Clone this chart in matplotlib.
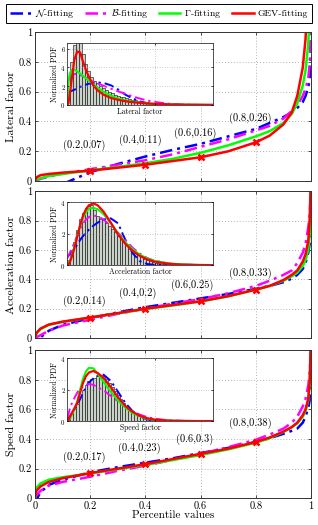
import matplotlib
matplotlib.use("Agg")
import matplotlib.pyplot as plt
from matplotlib.lines import Line2D

plt.rcParams["font.family"] = "serif"
plt.rcParams["font.serif"] = ["cmr10", "DejaVu Serif"]
plt.rcParams["mathtext.fontset"] = "cm"
plt.rcParams["axes.formatter.use_mathtext"] = True

# percentile grid shared by the quantile curves
perc = [0, 0.005, 0.02, 0.05, 0.1, 0.2, 0.3, 0.4, 0.5, 0.6, 0.7, 0.8,
        0.85, 0.9, 0.93, 0.95, 0.97, 0.98, 0.99, 0.995, 1.0]

lat_norm = [-0.45, -0.22, -0.14, -0.07, -0.02, 0.06, 0.115, 0.165, 0.21, 0.25, 0.30, 0.35,
            0.39, 0.43, 0.46, 0.49, 0.53, 0.57, 0.63, 0.68, 1.0]
lat_beta = [0.0, 0.005, 0.015, 0.03, 0.05, 0.08, 0.11, 0.14, 0.18, 0.23, 0.28, 0.34,
            0.37, 0.42, 0.47, 0.51, 0.57, 0.62, 0.69, 0.78, 1.0]
lat_gamma = [0.0, 0.01, 0.02, 0.033, 0.048, 0.072, 0.095, 0.12, 0.15, 0.19, 0.24, 0.30,
             0.335, 0.39, 0.45, 0.52, 0.64, 0.74, 0.92, 1.1, 1.5]
lat_gev = [0.0, 0.025, 0.04, 0.048, 0.057, 0.07, 0.09, 0.11, 0.135, 0.16, 0.2, 0.26,
           0.305, 0.38, 0.46, 0.57, 0.76, 0.95, 1.3, 1.6, 2.0]

acc_norm = [-0.1, -0.05, 0.005, 0.05, 0.09, 0.135, 0.175, 0.21, 0.24, 0.27, 0.30, 0.335,
            0.355, 0.38, 0.405, 0.43, 0.47, 0.51, 0.58, 0.64, 1.0]
acc_beta = [0.0, 0.005, 0.02, 0.05, 0.085, 0.125, 0.165, 0.2, 0.235, 0.265, 0.305, 0.355,
            0.39, 0.43, 0.46, 0.51, 0.58, 0.64, 0.75, 0.84, 1.0]
acc_gamma = [0.0, 0.03, 0.06, 0.09, 0.11, 0.14, 0.168, 0.198, 0.223, 0.25, 0.285, 0.33,
             0.355, 0.39, 0.42, 0.445, 0.49, 0.53, 0.6, 0.7, 1.0]
acc_gev = [0.0, 0.035, 0.065, 0.092, 0.112, 0.14, 0.17, 0.2, 0.225, 0.25, 0.285, 0.33,
           0.355, 0.395, 0.43, 0.46, 0.52, 0.57, 0.66, 0.8, 1.1]

spd_norm = [-0.05, -0.01, 0.04, 0.09, 0.125, 0.175, 0.21, 0.24, 0.27, 0.305, 0.34, 0.38,
            0.405, 0.435, 0.455, 0.47, 0.51, 0.55, 0.61, 0.66, 1.0]
spd_beta = [0.0, 0.02, 0.05, 0.085, 0.11, 0.145, 0.185, 0.22, 0.26, 0.3, 0.345, 0.395,
            0.43, 0.47, 0.51, 0.55, 0.62, 0.67, 0.76, 0.84, 1.0]
spd_gamma = [0.0, 0.07, 0.1, 0.125, 0.142, 0.167, 0.196, 0.225, 0.258, 0.292, 0.33, 0.375,
             0.405, 0.448, 0.48, 0.505, 0.55, 0.59, 0.66, 0.77, 1.0]
spd_gev = [0.0, 0.05, 0.08, 0.11, 0.135, 0.17, 0.2, 0.23, 0.265, 0.3, 0.335, 0.38,
           0.41, 0.45, 0.48, 0.51, 0.56, 0.6, 0.67, 0.78, 1.1]

# marked percentiles (GEV)
mark_p = [0.2, 0.4, 0.6, 0.8]
lat_mark = [0.07, 0.11, 0.16, 0.26]
acc_mark = [0.14, 0.2, 0.25, 0.33]
spd_mark = [0.17, 0.23, 0.3, 0.38]

# inset: histogram bins and fitted pdfs
bin_w = 0.02
bin_centers = [0.01 + 0.02 * i for i in range(50)]
lat_hist = [1.2, 4.6, 6.4, 7.0, 7.0, 5.4, 4.4, 3.6, 3.0, 2.6, 2.3, 2.0, 1.8, 1.6, 1.4, 1.25,
            1.1, 1.0, 0.9, 0.8, 0.7, 0.62, 0.55, 0.48, 0.42, 0.37, 0.32, 0.28, 0.24, 0.2,
            0.17, 0.14, 0.12, 0.1, 0.08, 0.07, 0.06, 0.05, 0.04, 0.03, 0.03, 0.02, 0.02,
            0.01, 0.01, 0.01, 0, 0, 0, 0]
acc_hist = [0.3, 0.8, 1.5, 2.2, 2.9, 3.3, 3.6, 3.75, 3.8, 3.5, 3.1, 2.95, 2.85, 2.7, 2.5,
            2.3, 2.1, 1.85, 1.65, 1.45, 1.25, 1.05, 0.9, 0.75, 0.62, 0.5, 0.4, 0.32, 0.26,
            0.2, 0.16, 0.12, 0.1, 0.08, 0.06, 0.05, 0.04, 0.03, 0.02, 0.02, 0.01, 0.01,
            0.01, 0, 0, 0, 0, 0, 0, 0]
spd_hist = [0.15, 0.45, 0.75, 1.1, 1.55, 1.95, 2.3, 2.55, 2.7, 2.75, 2.85, 2.9, 2.85, 2.65,
            2.4, 2.15, 1.9, 1.65, 1.4, 1.15, 0.95, 0.78, 0.62, 0.5, 0.4, 0.3, 0.22, 0.16,
            0.12, 0.09, 0.06, 0.05, 0.04, 0.03, 0.02, 0.02, 0.01, 0.01, 0, 0, 0, 0, 0, 0,
            0, 0, 0, 0, 0, 0]

pdf_x = [0, 0.01, 0.02, 0.03, 0.05, 0.07, 0.09, 0.11, 0.13, 0.15, 0.18, 0.21, 0.25, 0.3,
         0.35, 0.4, 0.45, 0.5, 0.55, 0.6, 0.7, 0.8, 0.9, 1.0]

lat_norm_pdf = [1.3, 1.35, 1.42, 1.5, 1.62, 1.78, 1.93, 2.05, 2.17, 2.27, 2.36, 2.4, 2.35,
                2.1, 1.65, 1.1, 0.7, 0.38, 0.2, 0.1, 0.02, 0, 0, 0]
lat_beta_pdf = [0, 2.5, 3.0, 3.2, 3.3, 3.3, 3.2, 3.05, 2.9, 2.75, 2.5, 2.3, 2.05, 1.75,
                1.45, 1.2, 0.92, 0.68, 0.48, 0.33, 0.13, 0.04, 0.01, 0]
lat_gamma_pdf = [0, 2.6, 3.4, 3.7, 3.75, 3.6, 3.35, 3.1, 2.85, 2.6, 2.2, 1.85, 1.4, 1.0,
                 0.7, 0.5, 0.36, 0.26, 0.18, 0.12, 0.06, 0.03, 0.01, 0]
lat_gev_pdf = [0, 0.2, 1.2, 2.5, 4.8, 5.7, 5.6, 4.6, 3.7, 3.0, 2.1, 1.55, 1.1, 0.75, 0.55,
               0.4, 0.3, 0.22, 0.16, 0.12, 0.07, 0.04, 0.03, 0.02]

acc_norm_pdf = [0.5, 0.6, 0.7, 0.8, 1.05, 1.3, 1.6, 1.85, 2.05, 2.25, 2.5, 2.7, 2.9, 2.97,
                2.65, 1.6, 0.75, 0.25, 0.07, 0.02, 0, 0, 0, 0]
acc_beta_pdf = [0.4, 0.6, 0.8, 1.0, 1.4, 1.9, 2.3, 2.65, 2.9, 3.05, 3.15, 3.1, 2.9, 2.5,
                2.05, 1.6, 1.1, 0.72, 0.45, 0.28, 0.1, 0.03, 0.01, 0]
acc_gamma_pdf = [0, 0.1, 0.3, 0.55, 1.15, 1.85, 2.5, 3.0, 3.35, 3.58, 3.64, 3.55, 3.25,
                 2.65, 2.0, 1.45, 1.0, 0.66, 0.42, 0.27, 0.1, 0.04, 0.01, 0]
acc_gev_pdf = [0, 0.05, 0.2, 0.45, 1.05, 1.8, 2.55, 3.15, 3.55, 3.8, 3.92, 3.8, 3.4, 2.7,
               1.95, 1.35, 0.9, 0.58, 0.36, 0.22, 0.08, 0.03, 0.01, 0]

spd_norm_pdf = [0.1, 0.2, 0.3, 0.45, 0.7, 1.03, 1.4, 1.8, 2.15, 2.45, 2.7, 2.88, 2.95,
                2.55, 1.85, 1.15, 0.62, 0.28, 0.1, 0.03, 0, 0, 0, 0]
spd_beta_pdf = [0.2, 0.45, 0.8, 1.05, 1.45, 1.8, 2.05, 2.2, 2.3, 2.35, 2.3, 2.15, 1.95,
                1.6, 1.25, 0.9, 0.62, 0.4, 0.25, 0.15, 0.04, 0.01, 0, 0]
spd_gamma_pdf = [0, 0, 0.15, 0.35, 0.75, 1.25, 2.0, 2.7, 3.15, 3.38, 3.35, 3.0, 2.5, 1.85,
                 1.3, 0.85, 0.5, 0.3, 0.15, 0.08, 0.02, 0, 0, 0]
spd_gev_pdf = [0, 0.05, 0.28, 0.45, 0.8, 1.14, 1.8, 2.43, 2.85, 3.08, 3.18, 3.05, 2.75,
               2.15, 1.5, 0.95, 0.58, 0.33, 0.18, 0.09, 0.03, 0.01, 0, 0]

panel_names = ["Lateral factor", "Acceleration factor", "Speed factor"]
mark_text = [["(0.2,0.07)", "(0.4,0.11)", "(0.6,0.16)", "(0.8,0.26)"],
             ["(0.2,0.14)", "(0.4,0.2)", "(0.6,0.25)", "(0.8,0.33)"],
             ["(0.2,0.17)", "(0.4,0.23)", "(0.6,0.3)", "(0.8,0.38)"]]

BLUE, MAG, GRN, RED = "#0000ff", "#ff00ff", "#00ff00", "#ff0000"
dashdot = (0, (5, 2, 1.2, 2))

fig = plt.figure(figsize=(3.18, 5.25), dpi=100)

main_boxes = [[0.110, 0.655, 0.868, 0.284],
              [0.110, 0.356, 0.868, 0.280],
              [0.110, 0.051, 0.868, 0.282]]
inset_boxes = [[0.2107, 0.800, 0.459, 0.118],
               [0.2107, 0.495, 0.459, 0.120],
               [0.2107, 0.198, 0.459, 0.120]]
text_pos = [[(0.18, 0.24), (0.38, 0.275), (0.58, 0.32), (0.78, 0.42)],
            [(0.18, 0.25), (0.373, 0.305), (0.57, 0.36), (0.78, 0.44)],
            [(0.18, 0.275), (0.377, 0.34), (0.58, 0.40), (0.78, 0.505)]]

quantiles = [(lat_norm, lat_beta, lat_gamma, lat_gev),
             (acc_norm, acc_beta, acc_gamma, acc_gev),
             (spd_norm, spd_beta, spd_gamma, spd_gev)]
marks = [lat_mark, acc_mark, spd_mark]
hists = [lat_hist, acc_hist, spd_hist]
pdfs = [(lat_norm_pdf, lat_beta_pdf, lat_gamma_pdf, lat_gev_pdf),
        (acc_norm_pdf, acc_beta_pdf, acc_gamma_pdf, acc_gev_pdf),
        (spd_norm_pdf, spd_beta_pdf, spd_gamma_pdf, spd_gev_pdf)]
inset_ylim = [6.6, 4.0, 4.0]
inset_yticks = [[0, 2, 4, 6], [0, 2, 4], [0, 2, 4]]

for k in range(3):
    ax = fig.add_axes(main_boxes[k])
    qn, qb, qg, qe = quantiles[k]
    ax.plot(perc, qn, color=BLUE, lw=1.8, ls=dashdot)
    ax.plot(perc, qb, color=MAG, lw=1.8, ls=dashdot)
    ax.plot(perc, qg, color=GRN, lw=1.8)
    ax.plot(perc, qe, color=RED, lw=1.8)
    ax.plot(mark_p, marks[k], ls="none", marker="x", color=RED, ms=5, mew=1.8)
    for t, (tx, ty) in zip(mark_text[k], text_pos[k]):
        ax.text(tx, ty, t, ha="center", va="center", fontsize=7.5)
    ax.set_xlim(0, 1)
    ax.set_ylim(0, 1)
    ax.set_xticks([0, 0.2, 0.4, 0.6, 0.8, 1])
    ax.set_yticks([0, 0.2, 0.4, 0.6, 0.8, 1])
    ax.set_yticklabels(["0", "0.2", "0.4", "0.6", "0.8", "1"])
    if k == 2:
        ax.set_xticklabels(["0", "0.2", "0.4", "0.6", "0.8", "1"])
        ax.set_xlabel("Percentile values", fontsize=8, labelpad=0)
    else:
        ax.set_xticklabels([])
    ax.set_ylabel(panel_names[k], fontsize=8.5, labelpad=2)
    ax.tick_params(direction="in", top=True, right=True, labelsize=7.5, length=2.5,
                   width=0.6, pad=2, color="#333333")
    ax.grid(True, ls=(0, (1, 2.5)), color="#9a9a9a", lw=0.6)
    for s in ax.spines.values():
        s.set_linewidth(0.7)
        s.set_color("#333333")

    ins = fig.add_axes(inset_boxes[k])
    ins.bar(bin_centers, hists[k], width=bin_w, color="#c9d3c9", edgecolor="black",
            linewidth=0.4)
    pn, pb, pg, pe = pdfs[k]
    ins.plot(pdf_x, pn, color=BLUE, lw=1.4, ls=dashdot)
    ins.plot(pdf_x, pb, color=MAG, lw=1.4, ls=dashdot)
    ins.plot(pdf_x, pg, color=GRN, lw=1.5)
    ins.plot(pdf_x, pe, color=RED, lw=1.6)
    ins.set_xlim(0, 1)
    ins.set_ylim(0, inset_ylim[k])
    ins.set_xticks([0.6])
    ins.set_xticklabels([])
    ins.set_yticks(inset_yticks[k])
    ins.set_xlabel(panel_names[k], fontsize=5.5, labelpad=1)
    ins.set_ylabel("Normalized PDF", fontsize=5.5, labelpad=1)
    ins.tick_params(direction="in", top=True, right=True, labelsize=5, length=1.5,
                    width=0.5, pad=1)
    ins.grid(True, ls=(0, (1, 2.5)), color="#9a9a9a", lw=0.5)
    ins.set_axisbelow(False)
    for s in ins.spines.values():
        s.set_linewidth(0.6)
        s.set_color("#333333")

handles = [Line2D([], [], color=BLUE, lw=1.8, ls=dashdot),
           Line2D([], [], color=MAG, lw=1.8, ls=dashdot),
           Line2D([], [], color=GRN, lw=1.8),
           Line2D([], [], color=RED, lw=1.8)]
labels = [r"$\mathcal{N}$-fitting", r"$\mathcal{B}$-fitting", r"$\Gamma$-fitting", "GEV-fitting"]
leg = fig.legend(handles, labels, loc="upper center", bbox_to_anchor=(0.5, 0.997), ncol=4,
                 fontsize=7, handlelength=2.2, handletextpad=0.4, columnspacing=1.1,
                 borderpad=0.35, borderaxespad=0.2, fancybox=False, edgecolor="black",
                 framealpha=1)
leg.get_frame().set_linewidth(0.7)

fig.savefig("out.png", dpi=100)
